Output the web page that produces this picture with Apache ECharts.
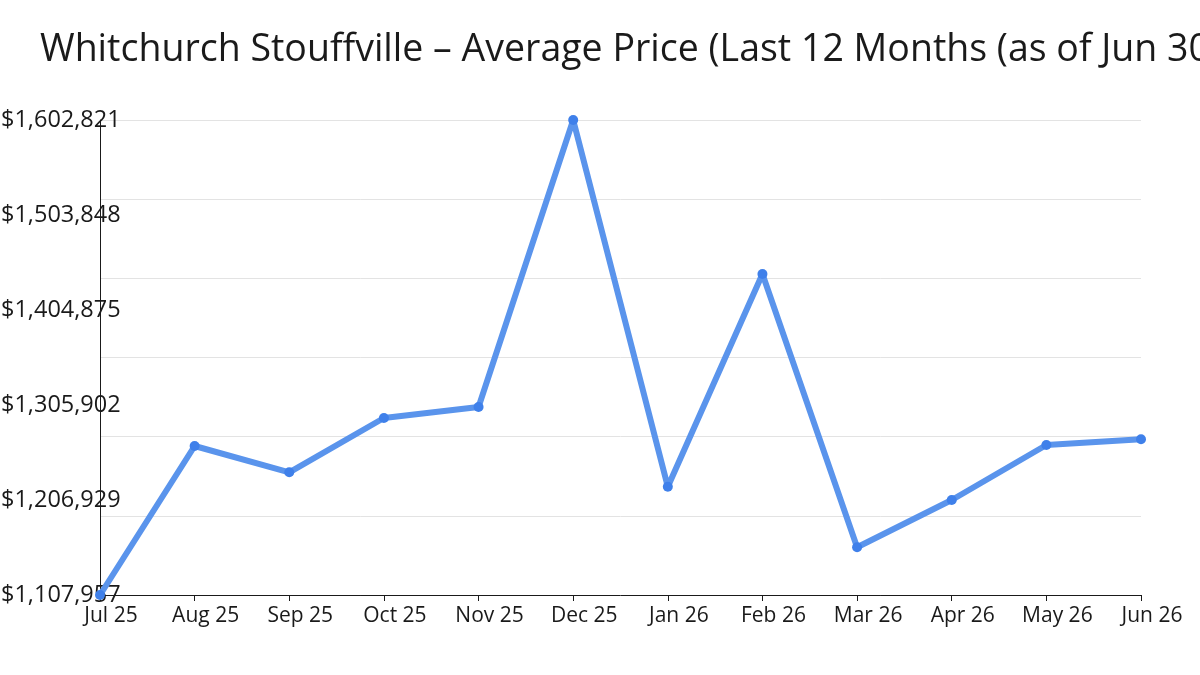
<!DOCTYPE html>
<html>
<head>
<meta charset="utf-8">
<script src="https://cdn.jsdelivr.net/npm/echarts@6/dist/echarts.min.js"></script>
<style>
html, body { margin: 0; padding: 0; background: #fff; }
#main { width: 1200px; height: 675px; }
</style>
</head>
<body>
<div id="main"></div>
<script>
// months shown on the x axis
var months = ['Jul 25', 'Aug 25', 'Sep 25', 'Oct 25', 'Nov 25', 'Dec 25',
	'Jan 26', 'Feb 26', 'Mar 26', 'Apr 26', 'May 26', 'Jun 26'];
// average price per month
var avgPrice = [1107957, 1263190, 1235790, 1292360, 1303820, 1602821,
	1220790, 1442380, 1157650, 1206930, 1264230, 1270170];
// y range used by the label ticks
var priceMin = 1107957;
var priceMax = 1602821;

var fmtMoney = function(v) {
	return '$' + Math.floor(v + 1e-6).toLocaleString('en-US');
};

var myChart = echarts.init(document.getElementById('main'));

var option = {
	backgroundColor : '#ffffff',
	textStyle : {
		fontFamily : 'Open Sans'
	},
	title : {
		text : 'Whitchurch Stouffville \u2013 Average Price (Last 12 Months (as of Jun 30, 2026))',
		left : 35,
		top : 26,
		textStyle : {
			fontFamily : 'Open Sans',
			fontSize : 37.5,
			fontWeight : 'normal',
			color : '#1a1a1a'
		}
	},
	grid : {
		left : 100,
		right : 59,
		top : 120,
		bottom : 80,
		containLabel : false,
		outerBoundsMode : 'none'
	},
	xAxis : {
		type : 'category',
		data : months,
		boundaryGap : false,
		axisLine : {
			lineStyle : { color : '#1a1a1a', width : 1 }
		},
		axisTick : {
			alignWithLabel : true,
			length : 6,
			lineStyle : { color : '#1a1a1a' }
		},
		axisLabel : {
			interval : 0,
			margin : 11,
			formatter : function(v) { return '{a|' + v + '}'; },
			rich : {
				a : {
					fontFamily : 'Open Sans',
					fontSize : 21,
					color : '#1a1a1a',
					padding : [0, 0, 0, 22]
				}
			}
		},
		splitLine : { show : false }
	},
	yAxis : [ {
		// labels: 5 steps
		type : 'value',
		min : priceMin,
		max : priceMax,
		interval : (priceMax - priceMin) / 5,
		axisLine : {
			show : true,
			lineStyle : { color : '#1a1a1a', width : 1 }
		},
		axisTick : { show : false },
		axisLabel : {
			align : 'left',
			margin : 99,
			fontFamily : 'Open Sans',
			fontSize : 23.5,
			color : '#1a1a1a',
			formatter : fmtMoney
		},
		splitLine : { show : false }
	}, {
		// gridlines: 6 steps
		type : 'value',
		position : 'left',
		min : priceMin,
		max : priceMax,
		interval : (priceMax - priceMin) / 6,
		axisLine : { show : false },
		axisTick : { show : false },
		axisLabel : { show : false },
		splitLine : {
			show : true,
			lineStyle : { color : '#e3e3e3', width : 1 }
		}
	} ],
	series : [ {
		name : 'Average Price',
		type : 'line',
		yAxisIndex : 0,
		data : avgPrice,
		symbol : 'circle',
		symbolSize : 10,
		lineStyle : { color : '#5a94ec', width : 6 },
		itemStyle : { color : '#3f80ea' },
		z : 5
	} ]
};

myChart.setOption(option);
</script>
</body>
</html>
